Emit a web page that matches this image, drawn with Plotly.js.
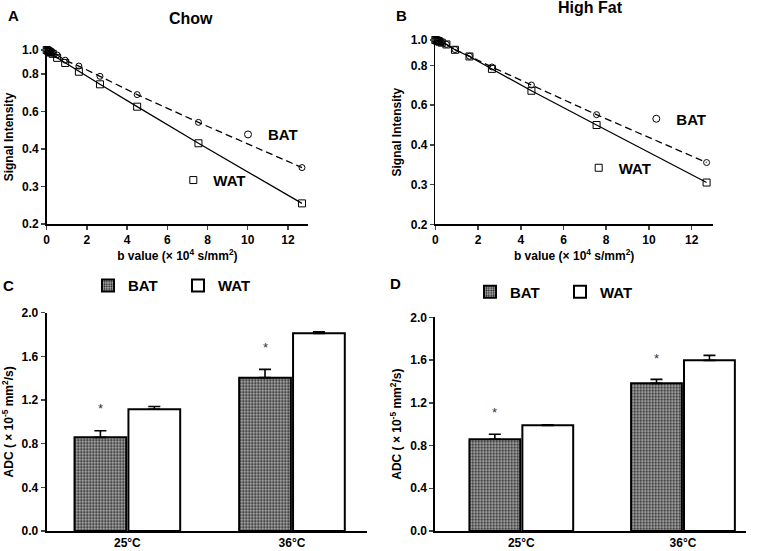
<!DOCTYPE html>
<html>
<head>
<meta charset="utf-8">
<script src="https://cdn.plot.ly/plotly-3.0.1.min.js"></script>
<style>
  html, body { margin: 0; padding: 0; background: #fff; }
  #chart { width: 766px; height: 551px; }
</style>
</head>
<body>
<div id="chart"></div>
<script>
// b values (x 10^4 s/mm^2), shared by both diets
let bValues = [0, 0.05, 0.1, 0.15, 0.2, 0.3, 0.52, 0.92, 1.6, 2.65, 4.5, 7.55, 12.7];

// normalised signal intensity, panel A (Chow)
let chowBAT = [1.0, 0.995, 0.99, 0.985, 0.98, 0.972, 0.955, 0.91, 0.862, 0.784, 0.662, 0.512, 0.337];
let chowWAT = [1.0, 0.995, 0.988, 0.982, 0.976, 0.965, 0.93, 0.887, 0.818, 0.728, 0.592, 0.422, 0.242];

// panel B (High Fat)
let hfBAT = [1.0, 0.997, 0.993, 0.99, 0.985, 0.978, 0.963, 0.92, 0.868, 0.79, 0.675, 0.521, 0.343];
let hfWAT = [1.0, 0.997, 0.993, 0.99, 0.985, 0.977, 0.962, 0.918, 0.866, 0.777, 0.642, 0.476, 0.288];

// log axis ticks (labels as printed in the figure)
let sigTickVals = [0.2, 0.2828, 0.4, 0.5657, 0.8, 1.0];
let sigTickText = ['0.2', '0.3', '0.4', '0.6', '0.8', '1.0'];
let bTickVals = [0, 2, 4, 6, 8, 10, 12];

// ADC bars (x 10^-5 mm^2/s)
let temps = ['25°C', '36°C'];
let adcChowBAT = [0.858, 1.405];
let adcChowBATErr = [0.06, 0.076];
let adcChowWAT = [1.115, 1.811];
let adcChowWATErr = [0.025, 0.015];
let adcHfBAT = [0.858, 1.382];
let adcHfBATErr = [0.047, 0.037];
let adcHfWAT = [0.989, 1.597];
let adcHfWATErr = [0.005, 0.047];
let adcTickVals = [0, 0.4, 0.8, 1.2, 1.6, 2.0];

const W = 766, H = 551;
const FONT = 'Liberation Sans, Arial, sans-serif';
const BARGAP = 0.345;
const BARGROUPGAP = 0.04;

function px(x) { return x / W; }
function py(y) { return 1 - y / H; }

function lineTrace(y, xa, ya, isBAT) {
    return {
        x: bValues, y: y, xaxis: xa, yaxis: ya,
        type: 'scatter', mode: 'lines+markers', showlegend: false,
        line: { color: '#000', width: 1.3, dash: isBAT ? '7px,4px' : 'solid' },
        marker: { symbol: isBAT ? 'circle-open' : 'square-open', size: isBAT ? 6 : 7,
                  color: '#000', line: { width: 1, color: '#000' } },
        cliponaxis: false
    };
}

function keyTrace(name, legend, isBAT) {
    return {
        x: [null], y: [null], type: 'scatter', mode: 'markers', name: name, legend: legend,
        marker: { symbol: isBAT ? 'circle-open' : 'square-open', size: 7, color: '#000',
                  line: { width: 1, color: '#000' } }
    };
}

function barTrace(name, y, err, xa, ya, isBAT, legend) {
    return {
        x: temps, y: y, xaxis: xa, yaxis: ya, type: 'bar', name: name,
        legend: legend, showlegend: true,
        marker: isBAT
            ? { color: '#9a9a9a', line: { color: '#000', width: 2 },
                pattern: { shape: '.', fgcolor: '#222', bgcolor: '#b8b8b8', size: 3, solidity: 0.45 } }
            : { color: '#fff', line: { color: '#000', width: 2 } },
        error_y: { type: 'data', symmetric: false, array: err, arrayminus: err.map(() => 0),
                   color: '#000', thickness: 1.6, width: 6 }
    };
}

let traces = [
    lineTrace(chowBAT, 'x', 'y', true),
    lineTrace(chowWAT, 'x', 'y', false),
    lineTrace(hfBAT, 'x2', 'y2', true),
    lineTrace(hfWAT, 'x2', 'y2', false),
    keyTrace('BAT', 'legend', true),
    keyTrace('WAT', 'legend2', false),
    keyTrace('BAT', 'legend3', true),
    keyTrace('WAT', 'legend4', false),
    barTrace('BAT', adcChowBAT, adcChowBATErr, 'x3', 'y3', true, 'legend5'),
    barTrace('WAT', adcChowWAT, adcChowWATErr, 'x3', 'y3', false, 'legend5'),
    barTrace('BAT', adcHfBAT, adcHfBATErr, 'x4', 'y4', true, 'legend6'),
    barTrace('WAT', adcHfWAT, adcHfWATErr, 'x4', 'y4', false, 'legend6')
];

let tickFont = { family: FONT, size: 12, color: '#000', weight: 'bold' };
let titleFont = { family: FONT, size: 12, color: '#000', weight: 'bold' };

function bAxis(domain, anchor) {
    return {
        domain: domain, anchor: anchor, range: [0, 13],
        tickvals: bTickVals, ticks: 'outside', ticklen: 4, tickwidth: 1.5,
        showline: true, linecolor: '#000', linewidth: 1.5, showgrid: false, zeroline: false,
        tickfont: tickFont,
        title: { text: 'b value (× 10<sup>4</sup> s/mm<sup>2</sup>)', font: titleFont, standoff: 2 }
    };
}

function sigAxis(domain, anchor) {
    return {
        domain: domain, anchor: anchor, type: 'log',
        range: [Math.log10(0.2), 0],
        tickvals: sigTickVals, ticktext: sigTickText,
        ticks: 'outside', ticklen: 4, tickwidth: 1.5,
        showline: true, linecolor: '#000', linewidth: 1.5, showgrid: false, zeroline: false,
        tickfont: tickFont,
        title: { text: 'Signal Intensity', font: titleFont, standoff: 6 }
    };
}

function catAxis(domain, anchor, range) {
    return {
        domain: domain, anchor: anchor, range: range, type: 'category',
        ticks: '', showline: true, linecolor: '#000', linewidth: 2,
        showgrid: false, zeroline: false, tickfont: tickFont
    };
}

function adcAxis(domain, anchor) {
    return {
        domain: domain, anchor: anchor, range: [0, 2.0],
        tickvals: adcTickVals, tickformat: '.1f',
        ticks: 'outside', ticklen: 4, tickwidth: 1.5,
        showline: true, linecolor: '#000', linewidth: 2, showgrid: false, zeroline: false,
        tickfont: tickFont,
        title: { text: 'ADC ( × 10<sup>-5</sup> mm<sup>2</sup>/s)', font: titleFont, standoff: 6 }
    };
}

function keyLegend(x, y, orientation) {
    return {
        x: x, y: y, xanchor: 'left', yanchor: 'middle',
        orientation: orientation || 'v', bgcolor: 'rgba(0,0,0,0)', borderwidth: 0,
        font: { family: FONT, size: 15, color: '#000', weight: 'bold' },
        entrywidth: 45, entrywidthmode: 'pixels', itemclick: false
    };
}

// labels, titles and significance stars
let annotations = [
    { text: 'A', x: px(13), y: py(15) },
    { text: 'B', x: px(402), y: py(15) },
    { text: 'C', x: px(8), y: py(285) },
    { text: 'D', x: px(395), y: py(283) },
    { text: 'Chow', x: px(191), y: py(19), size: 16 },
    { text: 'High Fat', x: px(590), y: py(8), size: 16 }
].map(a => ({
    text: a.text, x: a.x, y: a.y, xref: 'paper', yref: 'paper', showarrow: false,
    xanchor: 'center', yanchor: 'middle',
    font: { family: FONT, size: a.size || 15, color: '#000', weight: 'bold' }
}));

const slot = (1 - BARGAP) / 2;
[[adcChowBAT, adcChowBATErr, 'x3', 'y3'], [adcHfBAT, adcHfBATErr, 'x4', 'y4']].forEach(function(s) {
    s[0].forEach(function(v, i) {
        annotations.push({
            text: '*', x: i - slot / 2, y: v + s[1][i] + 0.2, xref: s[2], yref: s[3],
            showarrow: false, yanchor: 'middle',
            font: { family: FONT, size: 13, color: '#333' }
        });
    });
});

let layout = {
    width: W, height: H,
    margin: { l: 0, r: 0, t: 0, b: 0 },
    paper_bgcolor: '#fff', plot_bgcolor: 'rgba(0,0,0,0)',
    font: { family: FONT, color: '#000' },
    barmode: 'group', bargap: BARGAP, bargroupgap: BARGROUPGAP,
    xaxis: bAxis([px(46.7), px(308)], 'y'),
    yaxis: sigAxis([py(224), py(50)], 'x'),
    xaxis2: bAxis([px(435.3), px(713)], 'y2'),
    yaxis2: sigAxis([py(224.3), py(40)], 'x2'),
    xaxis3: catAxis([px(46.7), px(366.7)], 'y3', [-0.49, 1.454]),
    yaxis3: adcAxis([py(531), py(312.7)], 'x3'),
    xaxis4: catAxis([px(435.3), px(745.7)], 'y4', [-0.532, 1.388]),
    yaxis4: adcAxis([py(531), py(317.3)], 'x4'),
    legend: keyLegend(px(228), py(134.7)),
    legend2: keyLegend(px(173.3), py(180.3)),
    legend3: keyLegend(px(636.3), py(119)),
    legend4: keyLegend(px(578.7), py(168)),
    legend5: keyLegend(px(88), py(285.7), 'h'),
    legend6: keyLegend(px(470), py(292), 'h'),
    annotations: annotations,
    showlegend: true
};

Plotly.newPlot('chart', traces, layout, { displayModeBar: false, staticPlot: true });
</script>
</body>
</html>
